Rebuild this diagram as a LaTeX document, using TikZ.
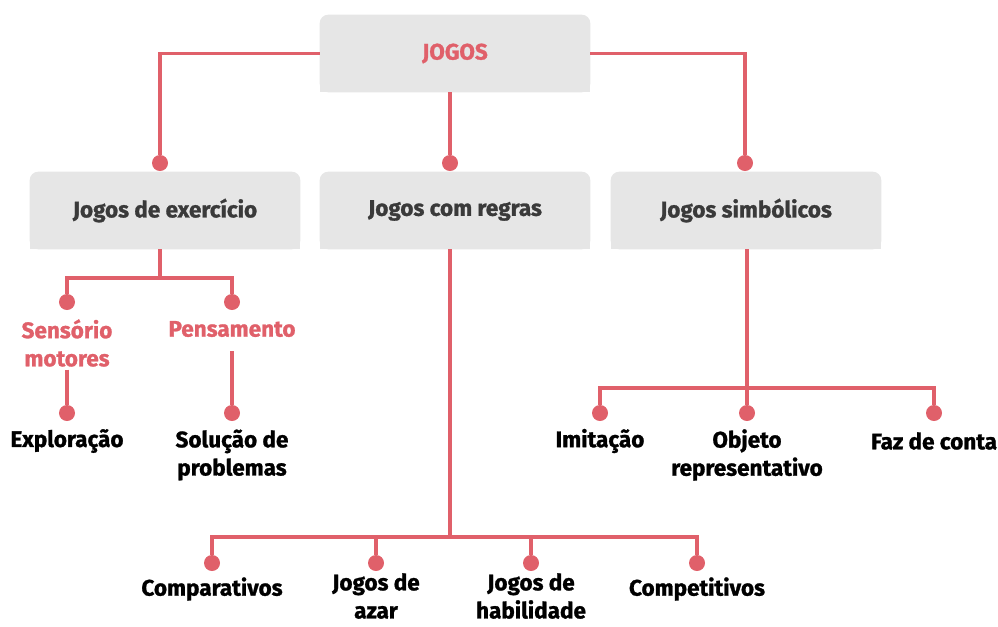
\documentclass[tikz,border=0pt]{standalone}
\usepackage{fontspec}
\setmainfont{Fira Sans}[BoldFont={Fira Sans Bold},BoldFeatures={FakeBold=1.2}]
\usetikzlibrary{backgrounds}
\definecolor{linered}{HTML}{E0606A}
\definecolor{boxgray}{HTML}{E6E6E6}
\definecolor{titlegray}{HTML}{3A3A3A}
\tikzset{
  catbox/.style={minimum width=6.75cm,minimum height=1.925cm,inner sep=0pt,
    font=\fontsize{16}{20}\selectfont\bfseries,text=titlegray},
  dot/.style={circle,fill=linered,inner sep=0pt,minimum size=0.4cm},
  leaf/.style={align=center,inner sep=2pt,font=\fontsize{16}{20}\selectfont\bfseries,text=black},
  midlabel/.style={leaf,text=linered},
  link/.style={draw=linered,line width=2.8pt}
}
\begin{document}
\begin{tikzpicture}[x=0.025cm,y=-0.025cm]
    \useasboundingbox (0,0) rectangle (998,626);
    %% boxes
    \node[catbox,text=linered] (jogos) at (455,53.5) {JOGOS};
    \node[catbox] (exerc) at (165,210.5) {Jogos de exercício};
    \node[catbox] (regras) at (455,210.5) {Jogos com regras};
    \node[catbox] (simb) at (746,210.5) {Jogos simbólicos};
    \begin{scope}[on background layer]
        \foreach \n in {jogos,exerc,regras,simb} {
            \fill[boxgray,rounded corners=6pt] (\n.south west) rectangle (\n.north east);
            \fill[boxgray] (\n.south west) rectangle (\n.east);
        }
    \end{scope}
    %% dots
    \node[dot] (dex) at (160,163) {};
    \node[dot] (dreg) at (450,163) {};
    \node[dot] (dsim) at (745,163) {};
    \node[dot] (dsens) at (67,302) {};
    \node[dot] (dpens) at (232,302) {};
    \node[dot] (dexp) at (67,413) {};
    \node[dot] (dsol) at (232,413) {};
    \node[dot] (dimi) at (600,413) {};
    \node[dot] (dobj) at (747,413) {};
    \node[dot] (dfaz) at (934,413) {};
    \foreach \nm/\x in {dcomp/212,dazar/376,dhab/531,dcompt/697}
        \node[dot] (\nm) at (\x,563) {};
    %% labels
    \node[midlabel] (sens) at (67,343) {Sensório\\motores};
    \node[midlabel] (pens) at (232,329) {Pensamento};
    \node[leaf] (expl) at (67,441) {Exploração};
    \node[leaf] (sol) at (232,455) {Solução de\\problemas};
    \node[leaf] (imi) at (600,441) {Imitação};
    \node[leaf] (obj) at (747,455) {Objeto\\representativo};
    \node[leaf] (faz) at (934,441) {Faz de conta};
    \node[leaf] (comp) at (212,589) {Comparativos};
    \node[leaf,inner sep=0pt] (azar) at (376,596) {Jogos de\\azar};
    \node[leaf,inner sep=0pt] (hab) at (531,596) {Jogos de\\habilidade};
    \node[leaf] (compt) at (697,589) {Competitivos};
    %% junctions
    \coordinate (exbar) at (160,278);
    \coordinate (simbar) at (747,388);
    \coordinate (regbar) at (450,537);
    %% connectors
    \draw[link] (jogos.west) -| (dex);
    \draw[link] (jogos.east) -| (dsim);
    \draw[link] (dreg |- jogos.south) -- (dreg);
    \draw[link] (exerc.south -| exbar) -- (exbar);
    \draw[link] (dsens) |- (exbar) -| (dpens);
    \draw[link] (sens.south) -- (dexp);
    \draw[link] ([yshift=-8pt]pens.south) -- (dsol);
    \draw[link] (simb.south -| simbar) -- (dobj);
    \draw[link] (dimi) |- (simbar) -| (dfaz);
    \draw[link] (regras.south -| regbar) -- (regbar);
    \draw[link] (dcomp) |- (regbar) -| (dcompt);
    \draw[link] (dazar) -- (dazar |- regbar);
    \draw[link] (dhab) -- (dhab |- regbar);
\end{tikzpicture}
\end{document}
